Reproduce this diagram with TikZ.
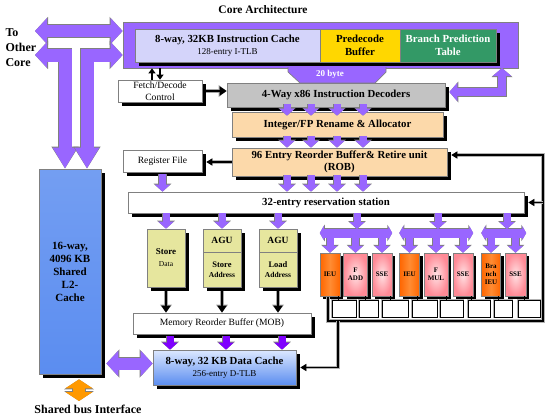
\documentclass[tikz,border=0pt]{standalone}
\usepackage{fontspec}
\setmainfont{Liberation Serif}
\usetikzlibrary{arrows.meta,shadows}

\definecolor{corepurple}{HTML}{9966FF}
\definecolor{cachelav}{HTML}{D4D4FA}
\definecolor{predecgold}{HTML}{FFD700}
\definecolor{bptgreen}{HTML}{339966}
\definecolor{decgray}{HTML}{C3C3C3}
\definecolor{robbeige}{HTML}{FCD9AA}
\definecolor{aguyellow}{HTML}{E6E69E}
\definecolor{ieuorange}{HTML}{FF6600}
\definecolor{ieulight}{HTML}{FF8C33}
\definecolor{unitpink}{HTML}{FF8A96}
\definecolor{pinklight}{HTML}{FFE2E4}
\definecolor{cachetop}{HTML}{DCE8FF}
\definecolor{cacheblue}{HTML}{5B8DF0}
\definecolor{l2light}{HTML}{CFDFFA}
\definecolor{busorange}{HTML}{FF9900}
\definecolor{mobviolet}{HTML}{7F00FF}

\begin{document}
\begin{tikzpicture}[x=1pt,y=-1pt,
    shadowed/.style={drop shadow={shadow xshift=#1,shadow yshift=-#1,fill=black,opacity=1}},
    box/.style={draw=gray,line width=.7pt,align=center,inner sep=0pt,shadowed=4pt},
    unit/.style={draw=gray,line width=.5pt,align=center,inner sep=0pt,shadowed=3pt,
        minimum height=43pt,font=\fontsize{7}{8}\selectfont\bfseries},
    ieu/.style={unit,left color=ieuorange,right color=ieuorange,middle color=ieulight},
    fpu/.style={unit,inner color=pinklight,outer color=unitpink},
    cell/.style={draw=black,line width=.7pt,fill=white,minimum height=17pt,inner sep=0pt,
        preaction={draw=gray!60,line width=2.6pt}},
    big/.style={font=\fontsize{10.8}{12.5}\selectfont\bfseries},
    plain/.style={font=\fontsize{9.6}{11.5}\selectfont},
    parr/.style={draw=corepurple,line width=7pt,-{Triangle[width=15pt,length=7pt]},
        preaction={draw=gray,line width=8.6pt,-{Triangle[width=17.5pt,length=8pt]}}},
    pvio/.style={parr,draw=mobviolet},
    pboth/.style={draw=corepurple,line width=8pt,{Triangle[width=18pt,length=8pt]}-{Triangle[width=18pt,length=8pt]},
        preaction={draw=gray,line width=9.6pt,{Triangle[width=20.5pt,length=9pt]}-{Triangle[width=20.5pt,length=9pt]}}},
    pbar/.style={draw=corepurple,line width=9pt,{Triangle[width=14pt,length=4pt]}-{Triangle[width=14pt,length=4pt]},
        preaction={draw=gray,line width=10.6pt,{Triangle[width=16.5pt,length=5pt]}-{Triangle[width=16.5pt,length=5pt]}}},
    bus/.style={draw=corepurple,line width=12pt,{Triangle[width=25pt,length=12pt]}-{Triangle[width=25pt,length=12pt]},
        preaction={draw=gray,line width=13.6pt,{Triangle[width=27.5pt,length=13pt]}-{Triangle[width=27.5pt,length=13pt]}}},
    tbus/.style={draw=corepurple,line width=13pt,{Triangle[width=23pt,length=21pt]}-{Triangle[width=25pt,length=12pt]},
        preaction={draw=gray,line width=14.6pt,{Triangle[width=25.5pt,length=22pt]}-{Triangle[width=27.5pt,length=13pt]}}},
    obus/.style={draw=busorange,line width=12pt,{Triangle[width=27pt,length=9pt]}-{Triangle[width=27pt,length=9pt]},
        preaction={draw=gray,line width=13.6pt,{Triangle[width=29.5pt,length=10pt]}-{Triangle[width=29.5pt,length=10pt]}}},
    barr/.style={draw=black,line width=2.6pt,-{Triangle[width=9pt,length=7pt]},
        preaction={draw=gray!70,line width=4.2pt,-{Triangle[width=11.5pt,length=8pt]}}},
    sarr/.style={draw=black,line width=2pt,-{Triangle[width=7pt,length=5pt]}},
    wire/.style={draw=black,line width=1.1pt,preaction={draw=gray!60,line width=3.2pt}},
    warr/.style={wire,-{Triangle[width=7pt,length=6pt]}}]
    \useasboundingbox (0,0) rectangle (550,416);

    % Заголовки
    \node[font=\fontsize{11.5}{13}\selectfont\bfseries] (title) at (263,10) {Core Architecture};
    \node[font=\fontsize{12}{15}\selectfont\bfseries,align=left,anchor=west] (other) at (2,48) {To\\Other\\Core};

    % Блок выборки команд
    \node[draw=gray,line width=.7pt,fill=corepurple,minimum width=395pt,minimum height=46pt] (frame) at (320.5,45) {};
    \node[box,fill=cachelav,minimum width=185pt,minimum height=33pt] (icache) at (227.5,45.5)
        {\fontsize{10.8}{13}\selectfont\bfseries 8-way, 32KB Instruction Cache\\
         \fontsize{9}{10}\selectfont\mdseries 128-entry I-TLB};
    \node[box,fill=predecgold,big,minimum width=80pt,minimum height=33pt] (predec) at (360,45.5) {Predecode\\Buffer};
    \node[box,fill=bptgreen,big,text=white,minimum width=96pt,minimum height=33pt] (bpt) at (448,45.5) {Branch Prediction\\Table};

    % L2
    \node[box,top color=cacheblue!85,middle color=l2light,bottom color=cacheblue,
        font=\fontsize{11}{13}\selectfont\bfseries,minimum width=62pt,minimum height=205pt] (l2) at (70,271.5)
        {16-way,\\4096 KB\\Shared\\L2-\\Cache};

    % Шина к другому ядру
    \coordinate (tout) at (35,31);
    \coordinate (lout) at (35,55);
    \draw[bus] (tout) -- (frame.west |- tout);
    \draw[tbus] ([xshift=-5pt]l2.north) |- (lout);
    \draw[tbus] ([xshift=17pt]l2.north) |- (frame.west |- lout);

    % Декодирование
    \node[box,fill=white,plain,minimum width=84pt,minimum height=22pt] (fetch) at (160,91) {Fetch/Decode\\Control};
    \node[box,fill=decgray,big,minimum width=218pt,minimum height=24pt] (decoders) at (336,95) {4-Way x86 Instruction Decoders};
    \draw[fill=corepurple,draw=gray,line width=.7pt] (288,67) -- (288,72) -- (300,83) -- (375,83) -- (386,72) -- (386,67);
    \node[font=\fontsize{9}{10}\selectfont\bfseries,text=white] (bytes) at (330,74) {20 byte};
    \draw[sarr] ([xshift=-8pt]fetch.north) -- ([xshift=-8pt]fetch.north |- frame.south);
    \draw[sarr] (fetch.north |- frame.south) -- (fetch.north);
    \draw[barr] ([xshift=4pt]fetch.east) -- (fetch.east -| decoders.west);
    \coordinate (bptout) at (502,68);
    \draw[pboth] (bptout) |- ([xshift=4pt,yshift=3pt]decoders.east);

    % Переименование и ROB
    \node[box,fill=robbeige,big,minimum width=211pt,minimum height=25pt] (rename) at (337.5,124.5) {Integer/FP Rename \& Allocator};
    \node[box,fill=robbeige,big,minimum width=215pt,minimum height=28pt] (rob) at (339.5,162) {96 Entry Reorder Buffer\& Retire unit\\(ROB)};
    \node[box,fill=white,plain,minimum width=79pt,minimum height=22pt] (regfile) at (162.5,161) {Register File};
    \node[box,fill=white,big,minimum width=396pt,minimum height=21pt] (rs) at (326,202.5) {32-entry reservation station};
    \foreach \d in {-49,-25,1,27} {
        \draw[parr] ([xshift=\d pt,yshift=3pt]decoders.south) -- ([xshift=\d pt,yshift=-4pt]decoders.south |- rename.north);
        \draw[parr] ([xshift=\d pt,yshift=1pt]decoders.south |- rename.south) -- ([xshift=\d pt]decoders.south |- rob.north);
        \draw[parr] ([xshift=\d pt,yshift=1pt]decoders.south |- rob.south) -- ([xshift=\d pt]decoders.south |- rs.north);
    }
    \draw[warr] (rob.west) -- ([xshift=4pt]rob.west -| regfile.east);
    \draw[parr] ([yshift=-2pt]regfile.south) -- (regfile.south |- rs.north);

    % Память
    \node[box,fill=aguyellow,minimum width=38pt,minimum height=58pt] (sdata) at (166,258)
        {\fontsize{9}{11}\selectfont\bfseries Store\\ \fontsize{7.5}{9}\selectfont Data};
    \node[box,fill=aguyellow,font=\fontsize{9.5}{11}\selectfont\bfseries,minimum width=38pt,minimum height=23pt] (agus) at (222,240.5) {AGU};
    \node[box,fill=aguyellow,font=\fontsize{8.5}{10.5}\selectfont\bfseries,minimum width=38pt,minimum height=35pt] (saddr) at (222,269.5)
        {Store\\ \fontsize{7.5}{10}\selectfont Address};
    \node[box,fill=aguyellow,font=\fontsize{9.5}{11}\selectfont\bfseries,minimum width=38pt,minimum height=23pt] (agul) at (278,240.5) {AGU};
    \node[box,fill=aguyellow,font=\fontsize{8.5}{10.5}\selectfont\bfseries,minimum width=38pt,minimum height=35pt] (laddr) at (278,269.5)
        {Load\\ \fontsize{7.5}{10}\selectfont Address};
    \foreach \u in {sdata,agus,agul}
        \draw[parr] (\u.north |- rs.south) -- (\u.north);
    \node[box,fill=white,plain,minimum width=178pt,minimum height=21pt] (mob) at (222,323.5) {Memory Reorder Buffer (MOB)};
    \foreach \u in {sdata,saddr,laddr}
        \draw[barr] ([yshift=-4pt]\u.south) -- (\u.south |- mob.north);
    \node[box,top color=cachetop,bottom color=cacheblue,minimum width=143pt,minimum height=35pt] (dcache) at (224.5,367.5)
        {\fontsize{10.8}{12.5}\selectfont\bfseries 8-way, 32 KB Data Cache\\ \fontsize{9}{10}\selectfont 256-entry D-TLB};
    \foreach \d in {-52,4,60}
        \draw[pvio] ([xshift=\d pt,yshift=-2pt]mob.south) -- ([xshift=\d pt]mob.south |- dcache.north);
    \draw[bus] ([xshift=5pt,yshift=4pt]l2.east |- dcache.west) -- ([yshift=4pt]dcache.west);

    % Внешняя шина
    \coordinate (sbus) at (79,401);
    \draw[obus] ([yshift=-5pt]l2.south -| sbus) -- (sbus);
    \node[font=\fontsize{12}{14}\selectfont\bfseries] (shared) at (88,409) {Shared bus Interface};

    % Исполнительные устройства
    \node[ieu,minimum width=20pt] (ieuA) at (330,274.5) {IEU};
    \node[fpu,minimum width=24pt] (faddA) at (355.5,274.5) {F\\ADD};
    \node[fpu,minimum width=20pt] (sseA) at (382,274.5) {SSE};
    \node[ieu,minimum width=20pt] (ieuB) at (409.5,274.5) {IEU};
    \node[fpu,minimum width=24pt] (fmul) at (436,274.5) {F\\MUL};
    \node[fpu,minimum width=20pt] (sseB) at (463,274.5) {SSE};
    \node[ieu,minimum width=19pt] (bieu) at (491,274.5) {Bra\\nch\\IEU};
    \node[fpu,minimum width=21pt] (sseC) at (515.5,274.5) {SSE};

    % Раздача из станции резервирования
    \coordinate (busA) at (357,233);
    \coordinate (busB) at (438,233);
    \coordinate (busC) at (507,233);
    \foreach \u in {ieuA,faddA,sseA,ieuB,fmul,sseB,bieu,sseC}
        \draw[parr] (\u.north |- busA) -- (\u.north);
    \draw[pbar] (ieuA.north west |- busA) -- (sseA.north east |- busA);
    \draw[pbar] (ieuB.north west |- busB) -- (sseB.north east |- busB);
    \draw[pbar] (bieu.north west |- busC) -- (sseC.north east |- busC);
    \foreach \b in {busA,busB,busC}
        \draw[parr] (\b |- rs.south) -- ([yshift=4pt]\b);

    % Шина результатов
    \coordinate (wbl) at (328,297);
    \coordinate (wbr) at (543,321);
    \coordinate (wbd) at (338,321);
    \draw[warr] (wbl) |- (wbr) |- ([xshift=4pt,yshift=7pt]rob.east);
    \draw[warr] (wbr |- rs.east) -- ([xshift=4pt]rs.east);
    \draw[warr] (wbd) |- ([xshift=4pt]dcache.east);
    \foreach \a/\b [count=\i] in {332/356,359/378,382/408,412/437,440/463,468/490,494/512,518/540}
        \node[cell,minimum width=\b-\a] (wb\i) at ({(\a+\b)/2},308.5) {};
    \foreach \u [count=\i] in {ieuA,faddA,sseA,ieuB,fmul,sseB,bieu,sseC}
        \draw[line width=.8pt] ([xshift=-2pt]\u.south east) -- ([xshift=-2pt]\u.south east |- wb\i.north);
\end{tikzpicture}
\end{document}
